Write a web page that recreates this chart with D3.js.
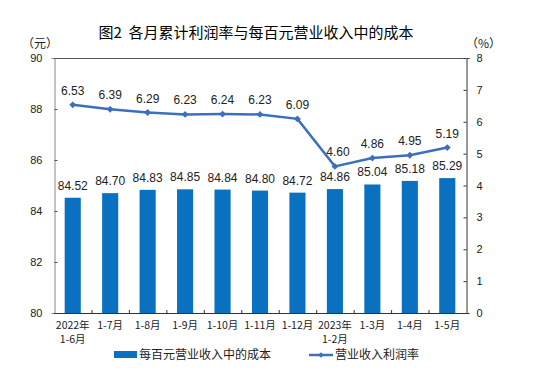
<!DOCTYPE html>
<html><head><meta charset="utf-8">
<script src="https://cdn.jsdelivr.net/npm/d3@7/dist/d3.min.js"></script>
<style>body{margin:0;background:#fff}svg{display:block}</style>
</head><body>
<script>
const categories = [["2022年","1-6月"],["1-7月"],["1-8月"],["1-9月"],["1-10月"],["1-11月"],["1-12月"],["2023年","1-2月"],["1-3月"],["1-4月"],["1-5月"]];
const costValues = [84.52,84.70,84.83,84.85,84.84,84.80,84.72,84.86,85.04,85.18,85.29];
const profitRates = [6.53,6.39,6.29,6.23,6.24,6.23,6.09,4.60,4.86,4.95,5.19];
const leftTicks = [80,82,84,86,88,90];
const rightTicks = [0,1,2,3,4,5,6,7,8];
const title = "图2\u00a0\u00a0各月累计利润率与每百元营业收入中的成本";
const seriesNames = ["每百元营业收入中的成本","营业收入利润率"];

const W=550,H=388;
const m={l:54,r:466,t:58,b:313};
const font='"Liberation Sans","Noto Sans CJK SC",sans-serif';
const cjk='"Noto Sans CJK SC",sans-serif';
const barColor="#0A70C0", lineColor="#3C6FBE";

const svg=d3.select("body").append("svg").attr("width",W).attr("height",H);
const idx=categories.map((d,i)=>i);
const x=d3.scaleBand().domain(idx).range([m.l,m.r]).paddingInner(0.57).paddingOuter(0.285);
const xb=d3.scaleBand().domain(idx).range([m.l,m.r]);
const yL=d3.scaleLinear().domain([80,90]).range([m.b,m.t]);
const yR=d3.scaleLinear().domain([0,8]).range([m.b,m.t]);

svg.append("text").attr("x",256).attr("y",38).attr("text-anchor","middle")
 .attr("font-family",cjk).attr("font-size",15).attr("fill","#000").text(title);
svg.append("text").attr("x",22).attr("y",48).attr("font-family",cjk).attr("font-size",12).attr("fill","#222").text("（元）");
svg.append("text").attr("x",466).attr("y",48).attr("font-family",cjk).attr("font-size",12).attr("fill","#222").text("（%）");

// bars
svg.selectAll("rect.bar").data(costValues).join("rect").attr("class","bar")
 .attr("x",(d,i)=>x(i)).attr("width",x.bandwidth())
 .attr("y",d=>yL(d)).attr("height",d=>m.b-yL(d)).attr("fill",barColor);

// frame
svg.append("line").attr("x1",m.l).attr("x2",m.r).attr("y1",m.t+0.5).attr("y2",m.t+0.5).attr("stroke","#555");
// left axis
const la=svg.append("g").attr("transform",`translate(${m.l+0.5},0)`)
 .call(d3.axisLeft(yL).tickValues(leftTicks).tickSize(3).tickFormat(d3.format("d")));
la.select(".domain").attr("stroke","#888");
la.selectAll(".tick line").attr("stroke","#555").attr("x2",3);
la.selectAll(".tick text").attr("x",-12).attr("font-family",font).attr("font-size",11).attr("fill","#222");
// right axis
const ra=svg.append("g").attr("transform",`translate(${m.r+0.5},0)`)
 .call(d3.axisRight(yR).tickValues(rightTicks).tickSize(3).tickFormat(d3.format("d")));
ra.select(".domain").attr("stroke","#333");
ra.selectAll(".tick line").attr("stroke","#333").attr("x2",-3);
ra.selectAll(".tick text").attr("x",10).attr("font-family",font).attr("font-size",11).attr("fill","#222");
// bottom axis
svg.append("line").attr("x1",m.l).attr("x2",m.r+1).attr("y1",m.b+0.5).attr("y2",m.b+0.5).attr("stroke","#333");
svg.selectAll("line.xt").data(idx.slice(1)).join("line").attr("class","xt")
 .attr("x1",i=>xb(i)+0.5).attr("x2",i=>xb(i)+0.5).attr("y1",m.b).attr("y2",m.b-3).attr("stroke","#333");
const xl=svg.selectAll("text.xl").data(categories).join("text").attr("class","xl")
 .attr("text-anchor","middle").attr("font-family",cjk).attr("font-size",10.5).attr("fill","#222");
xl.each(function(d,i){
  const t=d3.select(this);
  d.forEach((s,k)=>t.append("tspan").attr("x",xb(i)+xb.bandwidth()/2).attr("y",329+k*14).text(s));
});

// bar labels
svg.selectAll("text.bl").data(costValues).join("text").attr("class","bl")
 .attr("x",(d,i)=>x(i)+x.bandwidth()/2).attr("y",d=>yL(d)-8).attr("text-anchor","middle")
 .attr("font-family",font).attr("font-size",12).attr("fill","#222").text(d=>d.toFixed(2));

// line
const line=d3.line().x((d,i)=>xb(i)+xb.bandwidth()/2).y(d=>yR(d));
svg.append("path").datum(profitRates).attr("d",line).attr("fill","none").attr("stroke",lineColor).attr("stroke-width",2.5);
svg.selectAll("path.mk").data(profitRates).join("path").attr("class","mk")
 .attr("d",d3.symbol(d3.symbolDiamond2,30)).attr("fill",lineColor)
 .attr("transform",(d,i)=>`translate(${xb(i)+xb.bandwidth()/2},${yR(d)})`);
svg.selectAll("text.ll").data(profitRates).join("text").attr("class","ll")
 .attr("x",(d,i)=>xb(i)+xb.bandwidth()/2+(i===7?3:0)).attr("y",d=>yR(d)-10).attr("text-anchor","middle")
 .attr("font-family",font).attr("font-size",12).attr("fill","#222").text(d=>d.toFixed(2));

// legend
svg.append("rect").attr("x",114).attr("y",351).attr("width",23).attr("height",7).attr("fill",barColor);
svg.append("text").attr("x",139).attr("y",359).attr("font-family",cjk).attr("font-size",12).attr("fill","#222").text(seriesNames[0]);
svg.append("line").attr("x1",309).attr("x2",333).attr("y1",355).attr("y2",355).attr("stroke",lineColor).attr("stroke-width",2.5);
svg.append("path").attr("d",d3.symbol(d3.symbolDiamond2,20)).attr("fill",lineColor).attr("transform","translate(321,355)");
svg.append("text").attr("x",335).attr("y",359).attr("font-family",cjk).attr("font-size",12).attr("fill","#222").text(seriesNames[1]);
</script>
</body></html>
